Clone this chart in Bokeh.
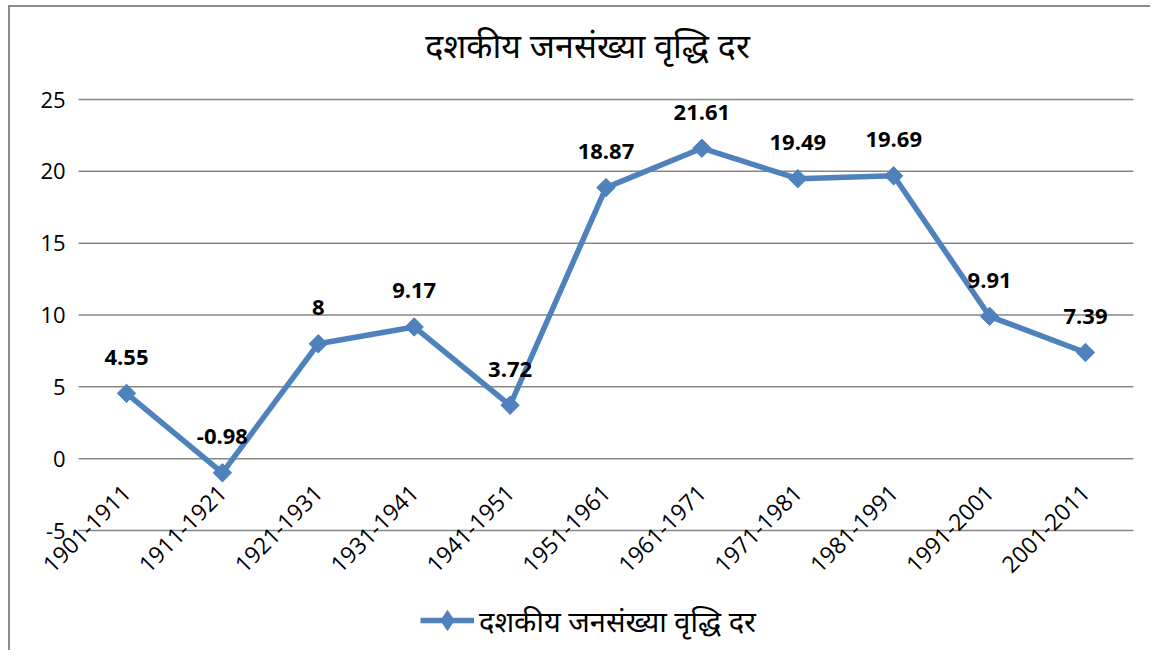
import math
from bokeh.plotting import figure
from bokeh.models import (Range1d, FixedTicker, ColumnDataSource, LabelSet, Legend,
                          LegendItem, Label)
from bokeh.core.properties import value
from bokeh.embed import file_html
from bokeh.resources import INLINE

categories = ["1901-1911", "1911-1921", "1921-1931", "1931-1941", "1941-1951",
              "1951-1961", "1961-1971", "1971-1981", "1981-1991", "1991-2001", "2001-2011"]
growth = [4.55, -0.98, 8, 9.17, 3.72, 18.87, 21.61, 19.49, 19.69, 9.91, 7.39]
label_text = ["4.55", "-0.98", "8", "9.17", "3.72", "18.87", "21.61", "19.49", "19.69", "9.91", "7.39"]
y_ticks = [-5, 0, 5, 10, 15, 20, 25]
title_text = "दशकीय जनसंख्या वृद्धि दर"
series_name = "दशकीय जनसंख्या वृद्धि दर"

n = len(categories)
xpos = list(range(n))
src = ColumnDataSource(dict(x=xpos, val=growth, lbl=label_text))

p = figure(width=1142, height=645, x_range=Range1d(-1.2096, 10.699),
           y_range=Range1d(-13.49, 30.5),
           output_backend="svg", toolbar_location=None,
           min_border_left=0, min_border_right=0, min_border_top=13, min_border_bottom=0)
p.styles = {"border-left": "2px solid #8c8c8c", "border-top": "2px solid #8c8c8c",
            "margin-left": "8px", "margin-top": "5px"}

# horizontal gridlines spanning the category area only
p.segment(x0=[-0.5] * len(y_ticks), x1=[n - 0.5] * len(y_ticks), y0=y_ticks, y1=y_ticks,
          line_color="#868686", line_width=1.5)

title = Label(x=4.807, y=28.76, text=title_text, text_align="center", text_baseline="middle",
              text_font="Noto Sans", text_font_size="34px", text_color="#000000")
p.add_layout(title)

line_color = "#4F81BD"
r_line = p.line("x", "val", source=src, line_color=line_color, line_width=5.5)
# narrow diamond hidden under the rotated squares; used for the legend glyph
r_leg = p.scatter("x", "val", source=src, marker="diamond", size=17,
                  fill_color=line_color, line_color=line_color)
r_mark = p.scatter("x", "val", source=src, marker="square", size=13, angle=math.pi / 4,
                   fill_color=line_color, line_color=line_color)

labels = LabelSet(x="x", y="val", text="lbl", source=src, y_offset=36,
                  text_align="center", text_baseline="middle",
                  text_font_size=value("22px"), text_font_style="bold",
                  text_font=value("Open Sans"), text_color="#000000")
p.add_layout(labels)

# y axis at the left edge of the plot area
p.yaxis.fixed_location = -0.5
p.yaxis.ticker = FixedTicker(ticks=y_ticks)
p.yaxis.axis_line_color = None
p.yaxis.major_tick_line_color = None
p.yaxis.minor_tick_line_color = None
p.yaxis.major_tick_out = 0
p.yaxis.major_tick_in = 0
p.yaxis.major_label_text_font = "Open Sans"
p.yaxis.major_label_text_font_size = "22px"
p.yaxis.major_label_text_color = "#000000"
p.yaxis.major_label_standoff = 13
p.yaxis.major_label_overrides = {-5: "-5"}

# x (category) axis crossing at value 0
p.xaxis.fixed_location = 0
p.xaxis.ticker = FixedTicker(ticks=xpos)
p.xaxis.major_label_overrides = {i: c for i, c in zip(xpos, categories)}
p.xaxis.axis_line_color = None
p.xaxis.major_tick_line_color = None
p.xaxis.minor_tick_line_color = None
p.xaxis.major_tick_out = 0
p.xaxis.major_tick_in = 0
p.xaxis.major_label_orientation = math.pi / 4
p.xaxis.major_label_text_font = "Open Sans"
p.xaxis.major_label_text_font_size = "23px"
p.xaxis.major_label_text_color = "#000000"
p.xaxis.major_label_standoff = 30

p.xgrid.grid_line_color = None
p.ygrid.grid_line_color = None
p.outline_line_color = None

legend = Legend(items=[LegendItem(label=series_name, renderers=[r_line, r_leg])],
                orientation="horizontal", location=(410, 7),
                label_text_font="Noto Sans", label_text_font_size="29px",
                label_text_color="#000000",
                border_line_color=None, background_fill_alpha=0,
                glyph_width=54, glyph_height=50, label_standoff=5,
                margin=0, padding=0)
p.add_layout(legend)

open("out.html", "w").write(file_html(p, INLINE))
